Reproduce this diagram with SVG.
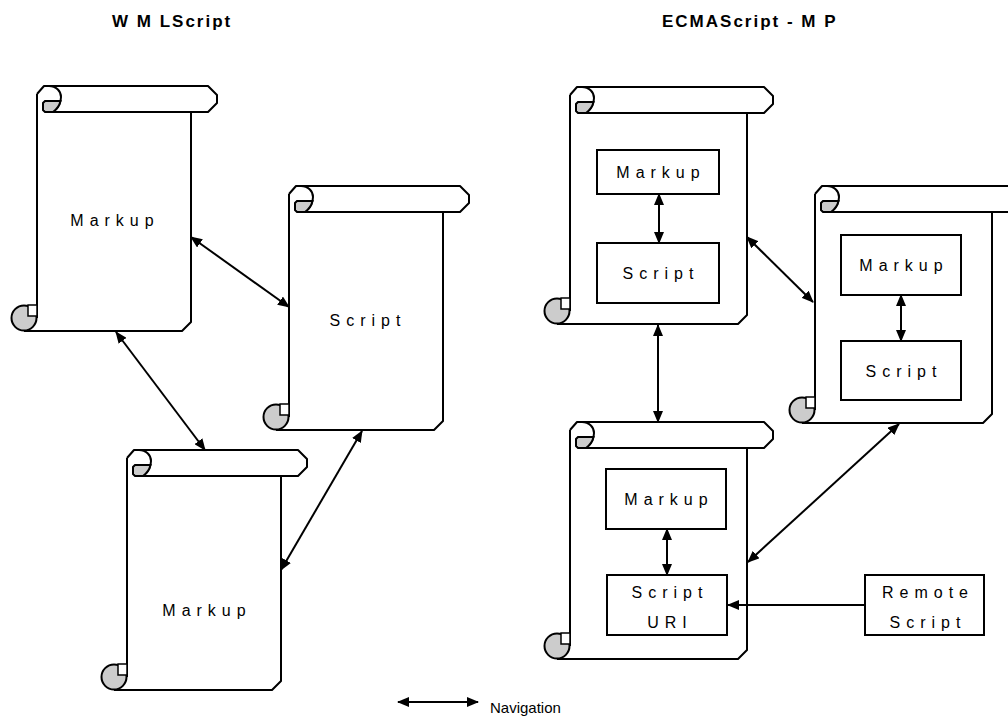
<svg xmlns="http://www.w3.org/2000/svg" width="1008" height="722" viewBox="0 0 1008 722">
  <style>
    .frame { fill: none; stroke: #000; stroke-width: 2; stroke-linejoin: round; }
    .curl { fill: #cccccc; stroke: #000; stroke-width: 2; }
    .notch { fill: #fff; stroke: #000; stroke-width: 1.5; }
    .box { fill: #fff; stroke: #000; stroke-width: 2; }
    .lbl { font-family: "Liberation Sans", Arial, sans-serif; font-size: 16px; letter-spacing: 6px; text-anchor: middle; fill: #000; }
    .title { font-family: "Liberation Sans", Arial, sans-serif; font-size: 17px; font-weight: bold; letter-spacing: 2px; fill: #000; }
    .legend { font-family: "Liberation Sans", Arial, sans-serif; font-size: 15px; fill: #000; }
    .link { fill: none; stroke: #000; stroke-width: 2; }
  </style>
  <defs>
    <marker id="head" viewBox="0 0 12 10" refX="11" refY="5" markerWidth="12" markerHeight="10" markerUnits="userSpaceOnUse" orient="auto-start-reverse">
      <path d="M0,0 L12,5 L0,10 Z" fill="#000"/>
    </marker>
    <!-- scroll used on the right-hand side: body 177 wide, 237 tall -->
    <g id="scrollR">
      <path class="frame" d="M0,8 L7,0 L194,0 L203,9 L203,17 L194,26 L16,26 M0,8 L0,224 M177,26 L177,228 L168,237 L-13,237"/>
      <path class="frame" d="M12,0 C19,0 24,5 24,11 C24,17 21,22 16,26"/>
      <path class="curl" d="M8,15 L23.5,15 C22.5,20 19.5,23.5 16,26 L8,26 L6,24 L6,17 Z"/>
      <circle class="curl" cx="-13" cy="224" r="12.5"/>
      <rect class="notch" x="-9" y="211" width="9" height="11"/>
    </g>
  </defs>

  <rect width="1008" height="722" fill="#fff"/>

  <!-- titles -->
  <text class="title" x="112" y="27">W M LScript</text>
  <text class="title" x="662" y="27">ECMAScript - M P</text>

  <!-- WMLScript side -->
  <g id="wml-markup-top" transform="translate(37,86)">
    <path class="frame" d="M0,8 L7,0 L171,0 L180,9 L180,17 L171,26 L16,26 M0,8 L0,232 M154,26 L154,236 L145,245 L-13,245"/>
    <path class="frame" d="M12,0 C19,0 24,5 24,11 C24,17 21,22 16,26"/>
    <path class="curl" d="M8,15 L23.5,15 C22.5,20 19.5,23.5 16,26 L8,26 L6,24 L6,17 Z"/>
    <circle class="curl" cx="-13" cy="232" r="12.5"/>
    <rect class="notch" x="-9" y="219" width="9" height="11"/>
    <text class="lbl" x="78" y="140">Markup</text>
  </g>

  <g id="wml-script" transform="translate(289,186)">
    <path class="frame" d="M0,8 L7,0 L171,0 L180,9 L180,17 L171,26 L16,26 M0,8 L0,231 M154,26 L154,235 L145,244 L-13,244"/>
    <path class="frame" d="M12,0 C19,0 24,5 24,11 C24,17 21,22 16,26"/>
    <path class="curl" d="M8,15 L23.5,15 C22.5,20 19.5,23.5 16,26 L8,26 L6,24 L6,17 Z"/>
    <circle class="curl" cx="-13" cy="231" r="12.5"/>
    <rect class="notch" x="-9" y="218" width="9" height="11"/>
    <text class="lbl" x="79" y="140">Script</text>
  </g>

  <g id="wml-markup-bottom" transform="translate(127,450)">
    <path class="frame" d="M0,8 L7,0 L171,0 L180,9 L180,17 L171,26 L16,26 M0,8 L0,227 M154,26 L154,231 L145,240 L-13,240"/>
    <path class="frame" d="M12,0 C19,0 24,5 24,11 C24,17 21,22 16,26"/>
    <path class="curl" d="M8,15 L23.5,15 C22.5,20 19.5,23.5 16,26 L8,26 L6,24 L6,17 Z"/>
    <circle class="curl" cx="-13" cy="227" r="12.5"/>
    <rect class="notch" x="-9" y="214" width="9" height="11"/>
    <text class="lbl" x="80" y="166">Markup</text>
  </g>

  <!-- ECMAScript-MP side -->
  <g id="mp-page-top" transform="translate(570,87)">
    <use href="#scrollR"/>
  </g>
  <g id="mp-page-right" transform="translate(815,186)">
    <use href="#scrollR"/>
  </g>
  <g id="mp-page-bottom" transform="translate(570,422)">
    <use href="#scrollR"/>
  </g>

  <g id="mp-top-markup">
    <rect class="box" x="597" y="150" width="122" height="44"/>
    <text class="lbl" x="661" y="178">Markup</text>
  </g>
  <g id="mp-top-script">
    <rect class="box" x="597" y="243" width="122" height="60"/>
    <text class="lbl" x="661" y="279">Script</text>
  </g>
  <g id="mp-right-markup">
    <rect class="box" x="841" y="235" width="120" height="60"/>
    <text class="lbl" x="904" y="271">Markup</text>
  </g>
  <g id="mp-right-script">
    <rect class="box" x="841" y="341" width="120" height="59"/>
    <text class="lbl" x="904" y="377">Script</text>
  </g>
  <g id="mp-bottom-markup">
    <rect class="box" x="606" y="469" width="120" height="60"/>
    <text class="lbl" x="669" y="505">Markup</text>
  </g>
  <g id="mp-bottom-script-uri">
    <rect class="box" x="607" y="575" width="120" height="60"/>
    <text class="lbl" x="670" y="598">Script</text>
    <text class="lbl" x="670" y="628">URI</text>
  </g>
  <g id="remote-script">
    <rect class="box" x="865" y="575" width="119" height="60"/>
    <text class="lbl" x="928" y="598">Remote</text>
    <text class="lbl" x="928" y="628">Script</text>
  </g>

  <!-- navigation links -->
  <g id="connectors">
    <line class="link" x1="191" y1="237" x2="289" y2="307" marker-start="url(#head)" marker-end="url(#head)"/>
    <line class="link" x1="116" y1="332" x2="205" y2="450" marker-start="url(#head)" marker-end="url(#head)"/>
    <line class="link" x1="362" y1="431" x2="281" y2="570" marker-start="url(#head)" marker-end="url(#head)"/>
    <line class="link" x1="658" y1="325" x2="658" y2="422" marker-start="url(#head)" marker-end="url(#head)"/>
    <line class="link" x1="747" y1="237" x2="813" y2="302" marker-start="url(#head)" marker-end="url(#head)"/>
    <line class="link" x1="899" y1="424" x2="748" y2="562" marker-start="url(#head)" marker-end="url(#head)"/>
    <line class="link" x1="659" y1="194" x2="659" y2="243" marker-start="url(#head)" marker-end="url(#head)"/>
    <line class="link" x1="901" y1="295" x2="901" y2="341" marker-start="url(#head)" marker-end="url(#head)"/>
    <line class="link" x1="667" y1="529" x2="667" y2="575" marker-start="url(#head)" marker-end="url(#head)"/>
    <line class="link" x1="865" y1="605" x2="728" y2="605" marker-end="url(#head)"/>
    <line class="link" x1="398" y1="702" x2="478" y2="702" marker-start="url(#head)" marker-end="url(#head)"/>
  </g>

  <text class="legend" x="490" y="713">Navigation</text>
</svg>
